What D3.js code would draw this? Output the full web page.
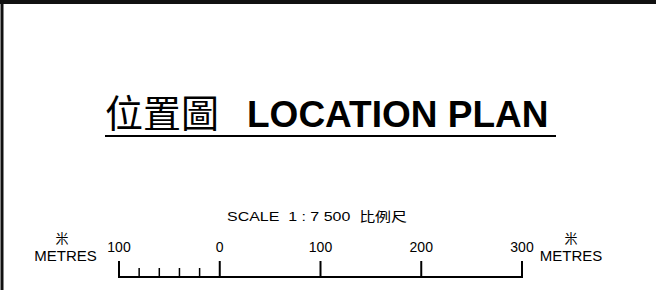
<!DOCTYPE html>
<html>
<head>
<meta charset="utf-8">
<script src="https://cdn.jsdelivr.net/npm/d3@7"></script>
<style>
  html, body { margin: 0; padding: 0; background: #fff; }
  svg { display: block; }
</style>
</head>
<body>
<div class="plan"></div>
<script>
var width = 656, height = 290;

// data
var titleZh = '位置圖';
var titleEn = 'LOCATION PLAN';
var scaleText = 'SCALE  1 : 7 500  比例尺';
var majorTicks = [-100, 0, 100, 200, 300];
var majorLabels = ['100', '0', '100', '200', '300'];
var minorTicks = [-80, -60, -40, -20];
var unitZh = '米';
var unitEn = 'METRES';

var latin = '"Liberation Sans", Arial, sans-serif';
var cjk = '"Noto Sans CJK TC", "Noto Sans CJK SC", sans-serif';

var svg = d3.select('.plan')
    .append('svg')
    .attr('width', width)
    .attr('height', height);

// frame (top and left edges only)
svg.append('line')
    .attr('x1', 0).attr('x2', width)
    .attr('y1', 2).attr('y2', 2)
    .attr('stroke', '#111').attr('stroke-width', 4);
svg.append('line')
    .attr('x1', 2).attr('x2', 2)
    .attr('y1', 0).attr('y2', height)
    .attr('stroke', '#111').attr('stroke-width', 3);

// title
var title = svg.append('text')
    .attr('y', 127)
    .attr('fill', '#000');
title.append('tspan')
    .attr('x', 105)
    .style('font-family', cjk)
    .style('font-size', '38px')
    .style('font-weight', 400)
    .text(titleZh);
title.append('tspan')
    .attr('x', 247)
    .style('font-family', latin)
    .style('font-size', '37px')
    .style('font-weight', 'bold')
    .text(titleEn);

svg.append('line')
    .attr('x1', 105).attr('x2', 556)
    .attr('y1', 136).attr('y2', 136)
    .attr('stroke', '#000').attr('stroke-width', 2);

// scale bar
var x = d3.scaleLinear()
    .domain([-100, 300])
    .range([119, 522]);

var baseY = 277;

svg.append('text')
    .attr('x', 227)
    .attr('y', 221)
    .attr('textLength', 180)
    .attr('lengthAdjust', 'spacingAndGlyphs')
    .attr('xml:space', 'preserve')
    .style('font-family', latin + ', ' + cjk)
    .style('font-size', '13px')
    .style('white-space', 'pre')
    .text(scaleText);

var bar = svg.append('g');

bar.append('line')
    .attr('x1', x(-100)).attr('x2', x(300))
    .attr('y1', baseY).attr('y2', baseY)
    .attr('stroke', '#000').attr('stroke-width', 2);

bar.selectAll('.major')
    .data(majorTicks)
    .enter()
    .append('line')
    .attr('class', 'major')
    .attr('x1', d => x(d)).attr('x2', d => x(d))
    .attr('y1', baseY - 16).attr('y2', baseY + 1)
    .attr('stroke', '#000').attr('stroke-width', 2);

bar.selectAll('.minor')
    .data(minorTicks)
    .enter()
    .append('line')
    .attr('class', 'minor')
    .attr('x1', d => x(d)).attr('x2', d => x(d))
    .attr('y1', baseY - 9).attr('y2', baseY + 1)
    .attr('stroke', '#000').attr('stroke-width', 1.5);

bar.selectAll('.lbl')
    .data(majorTicks)
    .enter()
    .append('text')
    .attr('class', 'lbl')
    .attr('x', d => x(d))
    .attr('y', 252)
    .attr('text-anchor', 'middle')
    .style('font-family', latin)
    .style('font-size', '14px')
    .text((d, i) => majorLabels[i]);

// unit labels on both ends
[[65.5, 62], [571, 571]].forEach(function (p) {
    svg.append('text')
        .attr('x', p[1])
        .attr('y', 243)
        .attr('text-anchor', 'middle')
        .style('font-family', cjk)
        .style('font-size', '13px')
        .text(unitZh);
    svg.append('text')
        .attr('x', p[0])
        .attr('y', 261)
        .attr('text-anchor', 'middle')
        .style('font-family', latin)
        .style('font-size', '15px')
        .text(unitEn);
});
</script>
</body>
</html>
